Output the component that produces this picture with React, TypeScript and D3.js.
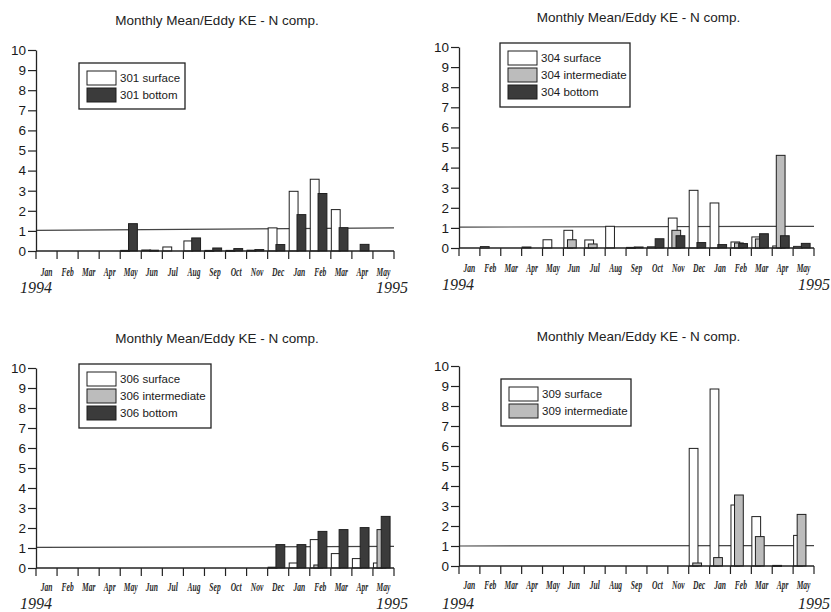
import React, { useRef, useEffect } from 'react';
import * as d3 from 'd3';

// months from Jan 1994 to May 1995
const months = ['Jan', 'Feb', 'Mar', 'Apr', 'May', 'Jun', 'Jul', 'Aug', 'Sep', 'Oct', 'Nov', 'Dec', 'Jan', 'Feb', 'Mar', 'Apr', 'May'];
const yearLabels = ['1994', '1995'];
const yTicks = [0, 1, 2, 3, 4, 5, 6, 7, 8, 9, 10];
const chartTitle = 'Monthly Mean/Eddy KE - N comp.';

// mooring 301
const surface301 = [0, 0, 0, 0, 0.03, 0.05, 0.2, 0.5, 0.03, 0.03, 0.04, 1.15, 2.97, 3.57, 2.06, 0, 0];
const bottom301 = [0, 0, 0, 0, 1.36, 0.04, 0, 0.65, 0.15, 0.12, 0.07, 0.32, 1.81, 2.86, 1.16, 0.33, 0];
const ref301 = [1.03, 1.15];

// mooring 304
const surface304 = [0, 0.07, 0, 0.05, 0.41, 0.88, 0.4, 1.08, 0.03, 0.06, 1.49, 2.87, 2.24, 0.3, 0.55, 0.1, 0.08];
const intermediate304 = [0, 0, 0, 0, 0, 0.41, 0.2, 0, 0, 0, 0.88, 0, 0, 0.25, 0.45, 4.61, 0];
const bottom304 = [0, 0, 0, 0, 0, 0, 0, 0, 0.05, 0.46, 0.61, 0.27, 0.17, 0.22, 0.71, 0.61, 0.23];
const ref304 = [1.04, 1.08];

// mooring 306
const surface306 = [0, 0, 0, 0, 0, 0, 0, 0, 0, 0, 0, 0.04, 0.25, 1.42, 0.72, 0.47, 0.25];
const intermediate306 = [0, 0, 0, 0, 0, 0, 0, 0, 0, 0, 0, 0, 0, 0.15, 0, 0, 1.92];
const bottom306 = [0, 0, 0, 0, 0, 0, 0, 0, 0, 0, 0, 1.17, 1.17, 1.83, 1.92, 2.02, 2.58];
const ref306 = [1.03, 1.08];

// mooring 309
const surface309 = [0, 0, 0, 0, 0, 0, 0, 0, 0, 0, 0, 5.88, 8.85, 3.05, 2.47, 0.03, 1.53];
const intermediate309 = [0, 0, 0, 0, 0, 0, 0, 0, 0, 0, 0, 0.15, 0.42, 3.55, 1.47, 0, 2.58];
const ref309 = [1.0, 1.02];

const kindStyle = {
  surface: { fill: '#ffffff', offset: 0 },
  intermediate: { fill: '#bcbcbc', offset: 0.17 },
  bottom: { fill: '#3b3b3b', offset: 0.37 },
};

const panels = [
  {
    series: [
      { label: '301 surface', kind: 'surface', values: surface301 },
      { label: '301 bottom', kind: 'bottom', values: bottom301 },
    ],
    ref: ref301,
    layout: { x0: 36, x1: 394, y0: 251, y10: 50, titleY: 25, monthY: 276, yearY: 293, yearL: 20, yearR: 408, legend: [79, 63, 106, 46] },
  },
  {
    series: [
      { label: '304 surface', kind: 'surface', values: surface304 },
      { label: '304 intermediate', kind: 'intermediate', values: intermediate304 },
      { label: '304 bottom', kind: 'bottom', values: bottom304 },
    ],
    ref: ref304,
    layout: { x0: 459, x1: 814, y0: 248, y10: 47, titleY: 22, monthY: 272, yearY: 290, yearL: 442, yearR: 830, legend: [500, 43, 130, 64] },
  },
  {
    series: [
      { label: '306 surface', kind: 'surface', values: surface306 },
      { label: '306 intermediate', kind: 'intermediate', values: intermediate306 },
      { label: '306 bottom', kind: 'bottom', values: bottom306 },
    ],
    ref: ref306,
    layout: { x0: 36, x1: 394, y0: 568, y10: 368, titleY: 343, monthY: 591, yearY: 609, yearL: 20, yearR: 408, legend: [79, 364, 132, 64] },
  },
  {
    series: [
      { label: '309 surface', kind: 'surface', values: surface309 },
      { label: '309 intermediate', kind: 'intermediate', values: intermediate309 },
    ],
    ref: ref309,
    layout: { x0: 459, x1: 814, y0: 566, y10: 366, titleY: 341, monthY: 589, yearY: 609, yearL: 442, yearR: 830, legend: [501, 379, 130, 47] },
  },
];

const sans = '"Liberation Sans", Arial, sans-serif';
const serif = '"Liberation Serif", "Times New Roman", serif';

function drawPanel(svg, panel) {
  const L = panel.layout;
  const g = svg.append('g');

  const x = d3.scaleBand().domain(d3.range(months.length)).range([L.x0, L.x1]).paddingInner(0).paddingOuter(0);
  const y = d3.scaleLinear().domain([0, 10]).range([L.y0, L.y10]);
  const bw = x.bandwidth();

  // title
  g.append('text')
    .attr('x', (L.x0 + L.x1) / 2 + 2)
    .attr('y', L.titleY)
    .attr('text-anchor', 'middle')
    .style('font-family', sans)
    .style('font-size', '13.5px')
    .attr('fill', '#222')
    .text(chartTitle);

  // reference line
  g.append('line')
    .attr('x1', L.x0).attr('x2', L.x1)
    .attr('y1', y(panel.ref[0])).attr('y2', y(panel.ref[1]))
    .attr('stroke', '#444')
    .attr('stroke-width', 1.2);

  // bars
  panel.series.forEach(s => {
    const st = kindStyle[s.kind];
    g.append('g')
      .selectAll('rect')
      .data(s.values.map((v, i) => ({ v, i })).filter(d => d.v > 0))
      .join('rect')
      .attr('x', d => x(d.i) + st.offset * bw + 0.5)
      .attr('y', d => y(d.v))
      .attr('width', bw * 0.42)
      .attr('height', d => Math.max(1, y(0) - y(d.v)))
      .attr('fill', st.fill)
      .attr('stroke', '#1e1e1e')
      .attr('stroke-width', 1);
  });

  // y axis
  const yAxis = d3.axisLeft(y).tickValues(yTicks).tickSize(8).tickSizeOuter(0).tickPadding(2);
  const ya = g.append('g').attr('transform', `translate(${L.x0},0)`).call(yAxis);
  ya.select('.domain').attr('stroke', '#222').attr('stroke-width', 1.3);
  ya.selectAll('line').attr('stroke', '#222').attr('stroke-width', 1.2);
  ya.selectAll('text')
    .attr('fill', '#1a1a1a')
    .style('font-family', sans)
    .style('font-size', '13.5px');

  // x axis: baseline with ticks at band boundaries
  g.append('line')
    .attr('x1', L.x0).attr('x2', L.x1)
    .attr('y1', y(0)).attr('y2', y(0))
    .attr('stroke', '#222').attr('stroke-width', 1.3);
  const bounds = d3.range(months.length + 1).map(i => (i < months.length ? x(i) : L.x1));
  g.append('g')
    .selectAll('line')
    .data(bounds)
    .join('line')
    .attr('x1', d => d).attr('x2', d => d)
    .attr('y1', y(0)).attr('y2', y(0) + 8)
    .attr('stroke', '#222').attr('stroke-width', 1.2);

  // month labels (condensed italic)
  g.append('g')
    .selectAll('text')
    .data(months)
    .join('text')
    .attr('transform', (d, i) => `translate(${x(i) + bw / 2},${L.monthY}) scale(0.58,1)`)
    .attr('text-anchor', 'middle')
    .style('font-family', serif)
    .style('font-style', 'italic')
    .style('font-weight', 'bold')
    .style('font-size', '13px')
    .attr('fill', '#2a2a2a')
    .text(d => d);

  // year labels
  g.append('text')
    .attr('x', L.yearL).attr('y', L.yearY)
    .style('font-family', serif).style('font-style', 'italic').style('font-size', '16px')
    .attr('fill', '#222')
    .text(yearLabels[0]);
  g.append('text')
    .attr('x', L.yearR).attr('y', L.yearY)
    .attr('text-anchor', 'end')
    .style('font-family', serif).style('font-style', 'italic').style('font-size', '16px')
    .attr('fill', '#222')
    .text(yearLabels[1]);

  // legend
  const [lx, ly, lw, lh] = panel.layout.legend;
  const lg = g.append('g');
  lg.append('rect')
    .attr('x', lx).attr('y', ly).attr('width', lw).attr('height', lh)
    .attr('fill', 'white').attr('stroke', '#222').attr('stroke-width', 1.3);
  panel.series.forEach((s, i) => {
    const ry = ly + 8 + i * 17;
    lg.append('rect')
      .attr('x', lx + 8).attr('y', ry).attr('width', 29).attr('height', 14)
      .attr('fill', kindStyle[s.kind].fill)
      .attr('stroke', '#1e1e1e').attr('stroke-width', 1);
    lg.append('text')
      .attr('x', lx + 41).attr('y', ry + 11)
      .style('font-family', sans)
      .style('font-size', '11.5px')
      .attr('fill', '#1a1a1a')
      .text(s.label);
  });
}

const App = () => {
  const svgRef = useRef(null);

  useEffect(() => {
    const svg = d3.select(svgRef.current);
    svg.selectAll('*').remove();
    svg.append('rect').attr('width', 831).attr('height', 612).attr('fill', 'white');
    panels.forEach(p => drawPanel(svg, p));
  }, []);

  return (
    <div style={{ position: 'absolute', left: 0, top: 0, width: 831, height: 612, background: 'white' }}>
      <svg ref={svgRef} width={831} height={612} style={{ display: 'block' }}></svg>
    </div>
  );
};

export default App;
